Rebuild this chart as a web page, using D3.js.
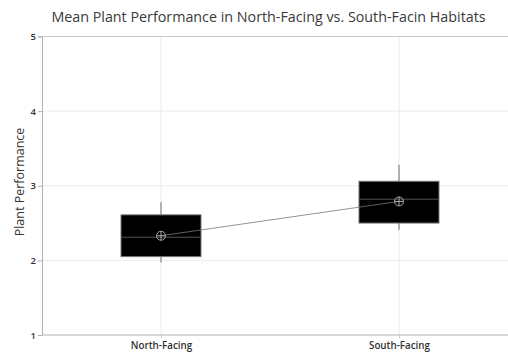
<!DOCTYPE html>
<html>
<head>
<meta charset="utf-8">
<script src="https://cdn.jsdelivr.net/npm/d3@7"></script>
<style>
  html, body { margin: 0; padding: 0; background: #fff; }
  svg { display: block; font-family: "Open Sans", "Noto Sans", sans-serif; }
</style>
</head>
<body>
<svg id="chart" width="508" height="353"></svg>
<script>
// Habitat groups and their summary statistics
const categories = ["North-Facing", "South-Facing"];
const whiskerLow  = [1.97, 2.41];
const boxLow      = [2.05, 2.50];
const medians     = [2.31, 2.82];
const boxHigh     = [2.61, 3.06];
const whiskerHigh = [2.78, 3.28];
const means       = [2.33, 2.79];
const yTicks      = [1, 2, 3, 4, 5];

const data = categories.map((c, i) => ({
  cat: c, lo: whiskerLow[i], q1: boxLow[i], med: medians[i],
  q3: boxHigh[i], hi: whiskerHigh[i], mean: means[i]
}));

const svg = d3.select("#chart");
const plotLeft = 42, plotRight = 518, plotTop = 36.5, plotBottom = 335;

const x = d3.scalePoint().domain(categories).range([plotLeft, plotRight]).padding(0.5);
const y = d3.scaleLinear().domain([1, 5]).range([plotBottom, plotTop]);
const boxW = 80;

// Gridlines
svg.append("g").selectAll("line").data(yTicks.slice(1, -1)).join("line")
  .attr("x1", plotLeft).attr("x2", 508).attr("y1", d => y(d)).attr("y2", d => y(d))
  .attr("stroke", "#ececec").attr("stroke-width", 1);
svg.append("g").selectAll("line").data(categories).join("line")
  .attr("x1", d => x(d)).attr("x2", d => x(d)).attr("y1", plotTop).attr("y2", plotBottom)
  .attr("stroke", "#ececec").attr("stroke-width", 1);
// Top frame line
svg.append("line").attr("x1", plotLeft).attr("x2", 508).attr("y1", y(5)).attr("y2", y(5))
  .attr("stroke", "#c8c8c8").attr("stroke-width", 1.2);

// Y axis
const yAxis = svg.append("g").attr("transform", `translate(${plotLeft},0)`)
  .call(d3.axisLeft(y).tickValues(yTicks).tickSize(4).tickFormat(d3.format("d")));
yAxis.select(".domain").attr("stroke", "#b0b0b0");
yAxis.selectAll(".tick line").attr("stroke", "#b0b0b0");
yAxis.selectAll(".tick text").attr("font-size", 9.5).attr("font-weight", 600)
  .attr("fill", "#333").attr("x", -6).attr("font-family", "Open Sans");

// X axis
const xAxis = svg.append("g").attr("transform", `translate(0,${plotBottom})`)
  .call(d3.axisBottom(x).tickSize(3));
xAxis.select(".domain").attr("stroke", "#b0b0b0").attr("d", `M${plotLeft},0H508`);
xAxis.selectAll(".tick line").attr("stroke", "#d0d0d0");
xAxis.selectAll(".tick text").attr("font-size", 9.8).attr("font-weight", 600)
  .attr("fill", "#333").attr("y", 7).attr("font-family", "Open Sans");

// Boxes with whiskers and median
const g = svg.append("g").selectAll("g").data(data).join("g");
g.append("line").attr("x1", d => x(d.cat)).attr("x2", d => x(d.cat))
  .attr("y1", d => y(d.hi)).attr("y2", d => y(d.q3))
  .attr("stroke", "#999").attr("stroke-width", 1.5);
g.append("line").attr("x1", d => x(d.cat)).attr("x2", d => x(d.cat))
  .attr("y1", d => y(d.q1)).attr("y2", d => y(d.lo))
  .attr("stroke", "#999").attr("stroke-width", 1.5);
g.append("rect").attr("x", d => x(d.cat) - boxW / 2).attr("width", boxW)
  .attr("y", d => y(d.q3)).attr("height", d => y(d.q1) - y(d.q3))
  .attr("fill", "#000").attr("stroke", "#777").attr("stroke-width", 1);
g.append("line").attr("x1", d => x(d.cat) - boxW / 2).attr("x2", d => x(d.cat) + boxW / 2)
  .attr("y1", d => y(d.med)).attr("y2", d => y(d.med))
  .attr("stroke", "#555").attr("stroke-width", 1);

// Line joining the group means
svg.append("path").datum(data)
  .attr("d", d3.line().x(d => x(d.cat)).y(d => y(d.mean)))
  .attr("fill", "none").attr("stroke", "#777").attr("stroke-width", 0.8);

// Mean symbols (circle with crosshair)
const m = svg.append("g").selectAll("g").data(data).join("g")
  .attr("transform", d => `translate(${x(d.cat)},${y(d.mean)})`);
m.append("circle").attr("r", 4.5).attr("fill", "none").attr("stroke", "#aaa").attr("stroke-width", 1);
m.append("line").attr("x1", -4.5).attr("x2", 4.5).attr("stroke", "#aaa").attr("stroke-width", 1);
m.append("line").attr("y1", -4.5).attr("y2", 4.5).attr("stroke", "#aaa").attr("stroke-width", 1);

// Title and axis label
svg.append("text").attr("x", 268.5).attr("y", 22).attr("text-anchor", "middle")
  .attr("font-size", 14.3).attr("font-weight", 500).attr("fill", "#3a3a3a")
  .text("Mean Plant Performance in North-Facing vs. South-Facin Habitats");
svg.append("text").attr("transform", "translate(24,182) rotate(-90)")
  .attr("text-anchor", "middle").attr("font-size", 12.5).attr("font-weight", 500).attr("fill", "#333")
  .text("Plant Performance");
</script>
</body>
</html>
